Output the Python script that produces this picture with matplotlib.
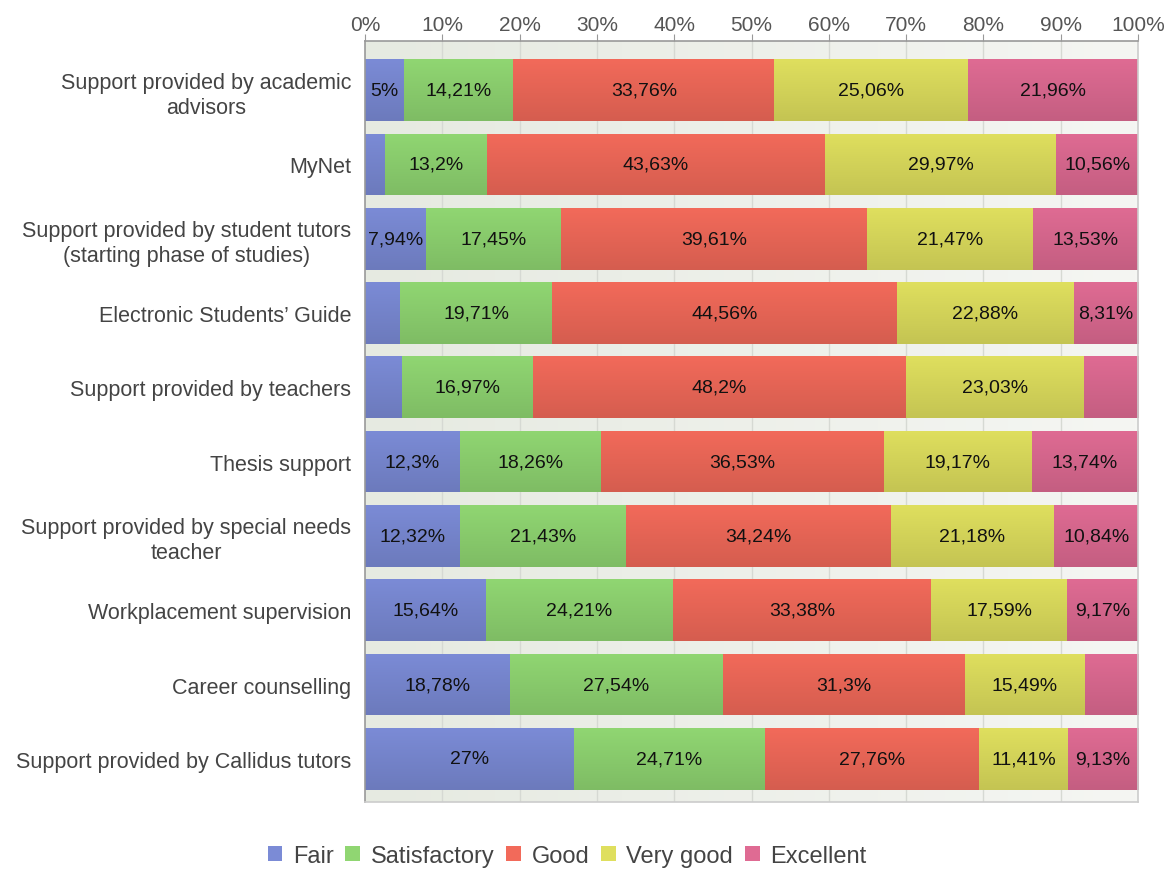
#!/usr/bin/env python3

import numpy as np
import matplotlib
matplotlib.use('Agg')
import matplotlib.pyplot as plt
from matplotlib.colors import to_rgb
from matplotlib.patches import Patch

plt.rcParams['font.family'] = ['Liberation Sans', 'DejaVu Sans']

categories = [
    'Support provided by academic\nadvisors',
    'MyNet',
    'Support provided by student tutors\n(starting phase of studies)',
    'Electronic Students\u2019 Guide',
    'Support provided by teachers',
    'Thesis support',
    'Support provided by special needs\nteacher',
    'Workplacement supervision',
    'Career counselling',
    'Support provided by Callidus tutors',
]
series = ['Fair', 'Satisfactory', 'Good', 'Very good', 'Excellent']
fair = [5, 2.64, 7.94, 4.54, 4.81, 12.3, 12.32, 15.64, 18.78, 27]
satisfactory = [14.21, 13.2, 17.45, 19.71, 16.97, 18.26, 21.43, 24.21, 27.54, 24.71]
good = [33.76, 43.63, 39.61, 44.56, 48.2, 36.53, 34.24, 33.38, 31.3, 27.76]
very_good = [25.06, 29.97, 21.47, 22.88, 23.03, 19.17, 21.18, 17.59, 15.49, 11.41]
excellent = [21.96, 10.56, 13.53, 8.31, 6.99, 13.74, 10.84, 9.17, 6.89, 9.13]
values = [fair, satisfactory, good, very_good, excellent]

colors = ['#7b8bd6', '#90d672', '#f26a5a', '#dfdf5e', '#df6b93']

W, H = 1169, 870
fig = plt.figure(figsize=(W / 100, H / 100), dpi=100)
ax = fig.add_axes([365 / W, 1 - 803 / H, (1138 - 365) / W, (803 - 42) / H])

n = len(categories)
y = np.arange(n)
ax.set_xlim(0, 100)
ax.set_ylim(n - 1 + 0.58, -0.66)

# plot background: soft horizontal gradient
bg = np.linspace(0, 1, 256)[None, :, None]
c0, c1 = np.array(to_rgb('#e6eae1')), np.array(to_rgb('#f5f6f3'))
ax.imshow(c0 + (c1 - c0) * bg, extent=[0, 100, n - 1 + 0.58, -0.66],
          aspect='auto', zorder=0)
for xv in range(10, 100, 10):
    ax.axvline(xv, color='#d6d9d3', lw=1, zorder=1)

fig.canvas.draw()
renderer = fig.canvas.get_renderer()
px_per_unit = ax.get_window_extent().width / 100

bar_h = 0.83
left = np.zeros(n)
for vals, col in zip(values, colors):
    bars = ax.barh(y, vals, left=left, height=bar_h, color=col, lw=0, zorder=2)
    rgb = np.array(to_rgb(col))
    grad = np.linspace(1.0, 0.88, 64)[:, None, None] * rgb[None, None, :]
    for b, v, l, yi in zip(bars, vals, left, y):
        im = ax.imshow(grad, extent=[l, l + v, yi + bar_h / 2, yi - bar_h / 2],
                       aspect='auto', zorder=2.5)
        im.set_clip_path(b)
        label = f'{v:g}'.replace('.', ',') + '%'
        t = ax.text(l + v / 2, yi, label, ha='center', va='center',
                    fontsize=14, color='#111111', zorder=3)
        # hide labels that don't fit inside their segment
        tw = t.get_window_extent(renderer).width
        if tw + 4 > v * px_per_unit:
            t.set_visible(False)
    left += np.array(vals)

ax.set_yticks(y)
ax.set_yticklabels(categories, fontsize=15.5, color='#444444',
                   multialignment='center', linespacing=1.25)
ax.tick_params(axis='y', length=0, pad=10)
ax.set_xticks(range(0, 101, 10))
ax.set_xticklabels([f'{v}%' for v in range(0, 101, 10)])
ax.xaxis.tick_top()
ax.tick_params(axis='x', direction='out', length=5, color='#999999',
               labelsize=15, labelcolor='#555555', pad=0)

for side in ['top', 'left']:
    ax.spines[side].set_color('#999999')
    ax.spines[side].set_linewidth(1.2)
for side in ['right', 'bottom']:
    ax.spines[side].set_color('#cccccc')
    ax.spines[side].set_linewidth(1.2)

handles = [Patch(facecolor=c, edgecolor='none') for c in colors]
fig.legend(handles, series, loc='center', bbox_to_anchor=(567 / W, 1 - 857 / H),
           ncol=5, frameon=False, fontsize=17, handlelength=0.62,
           handleheight=0.62, handletextpad=0.45, columnspacing=0.5,
           labelcolor='#444444')

fig.savefig('out.png', dpi=100)
